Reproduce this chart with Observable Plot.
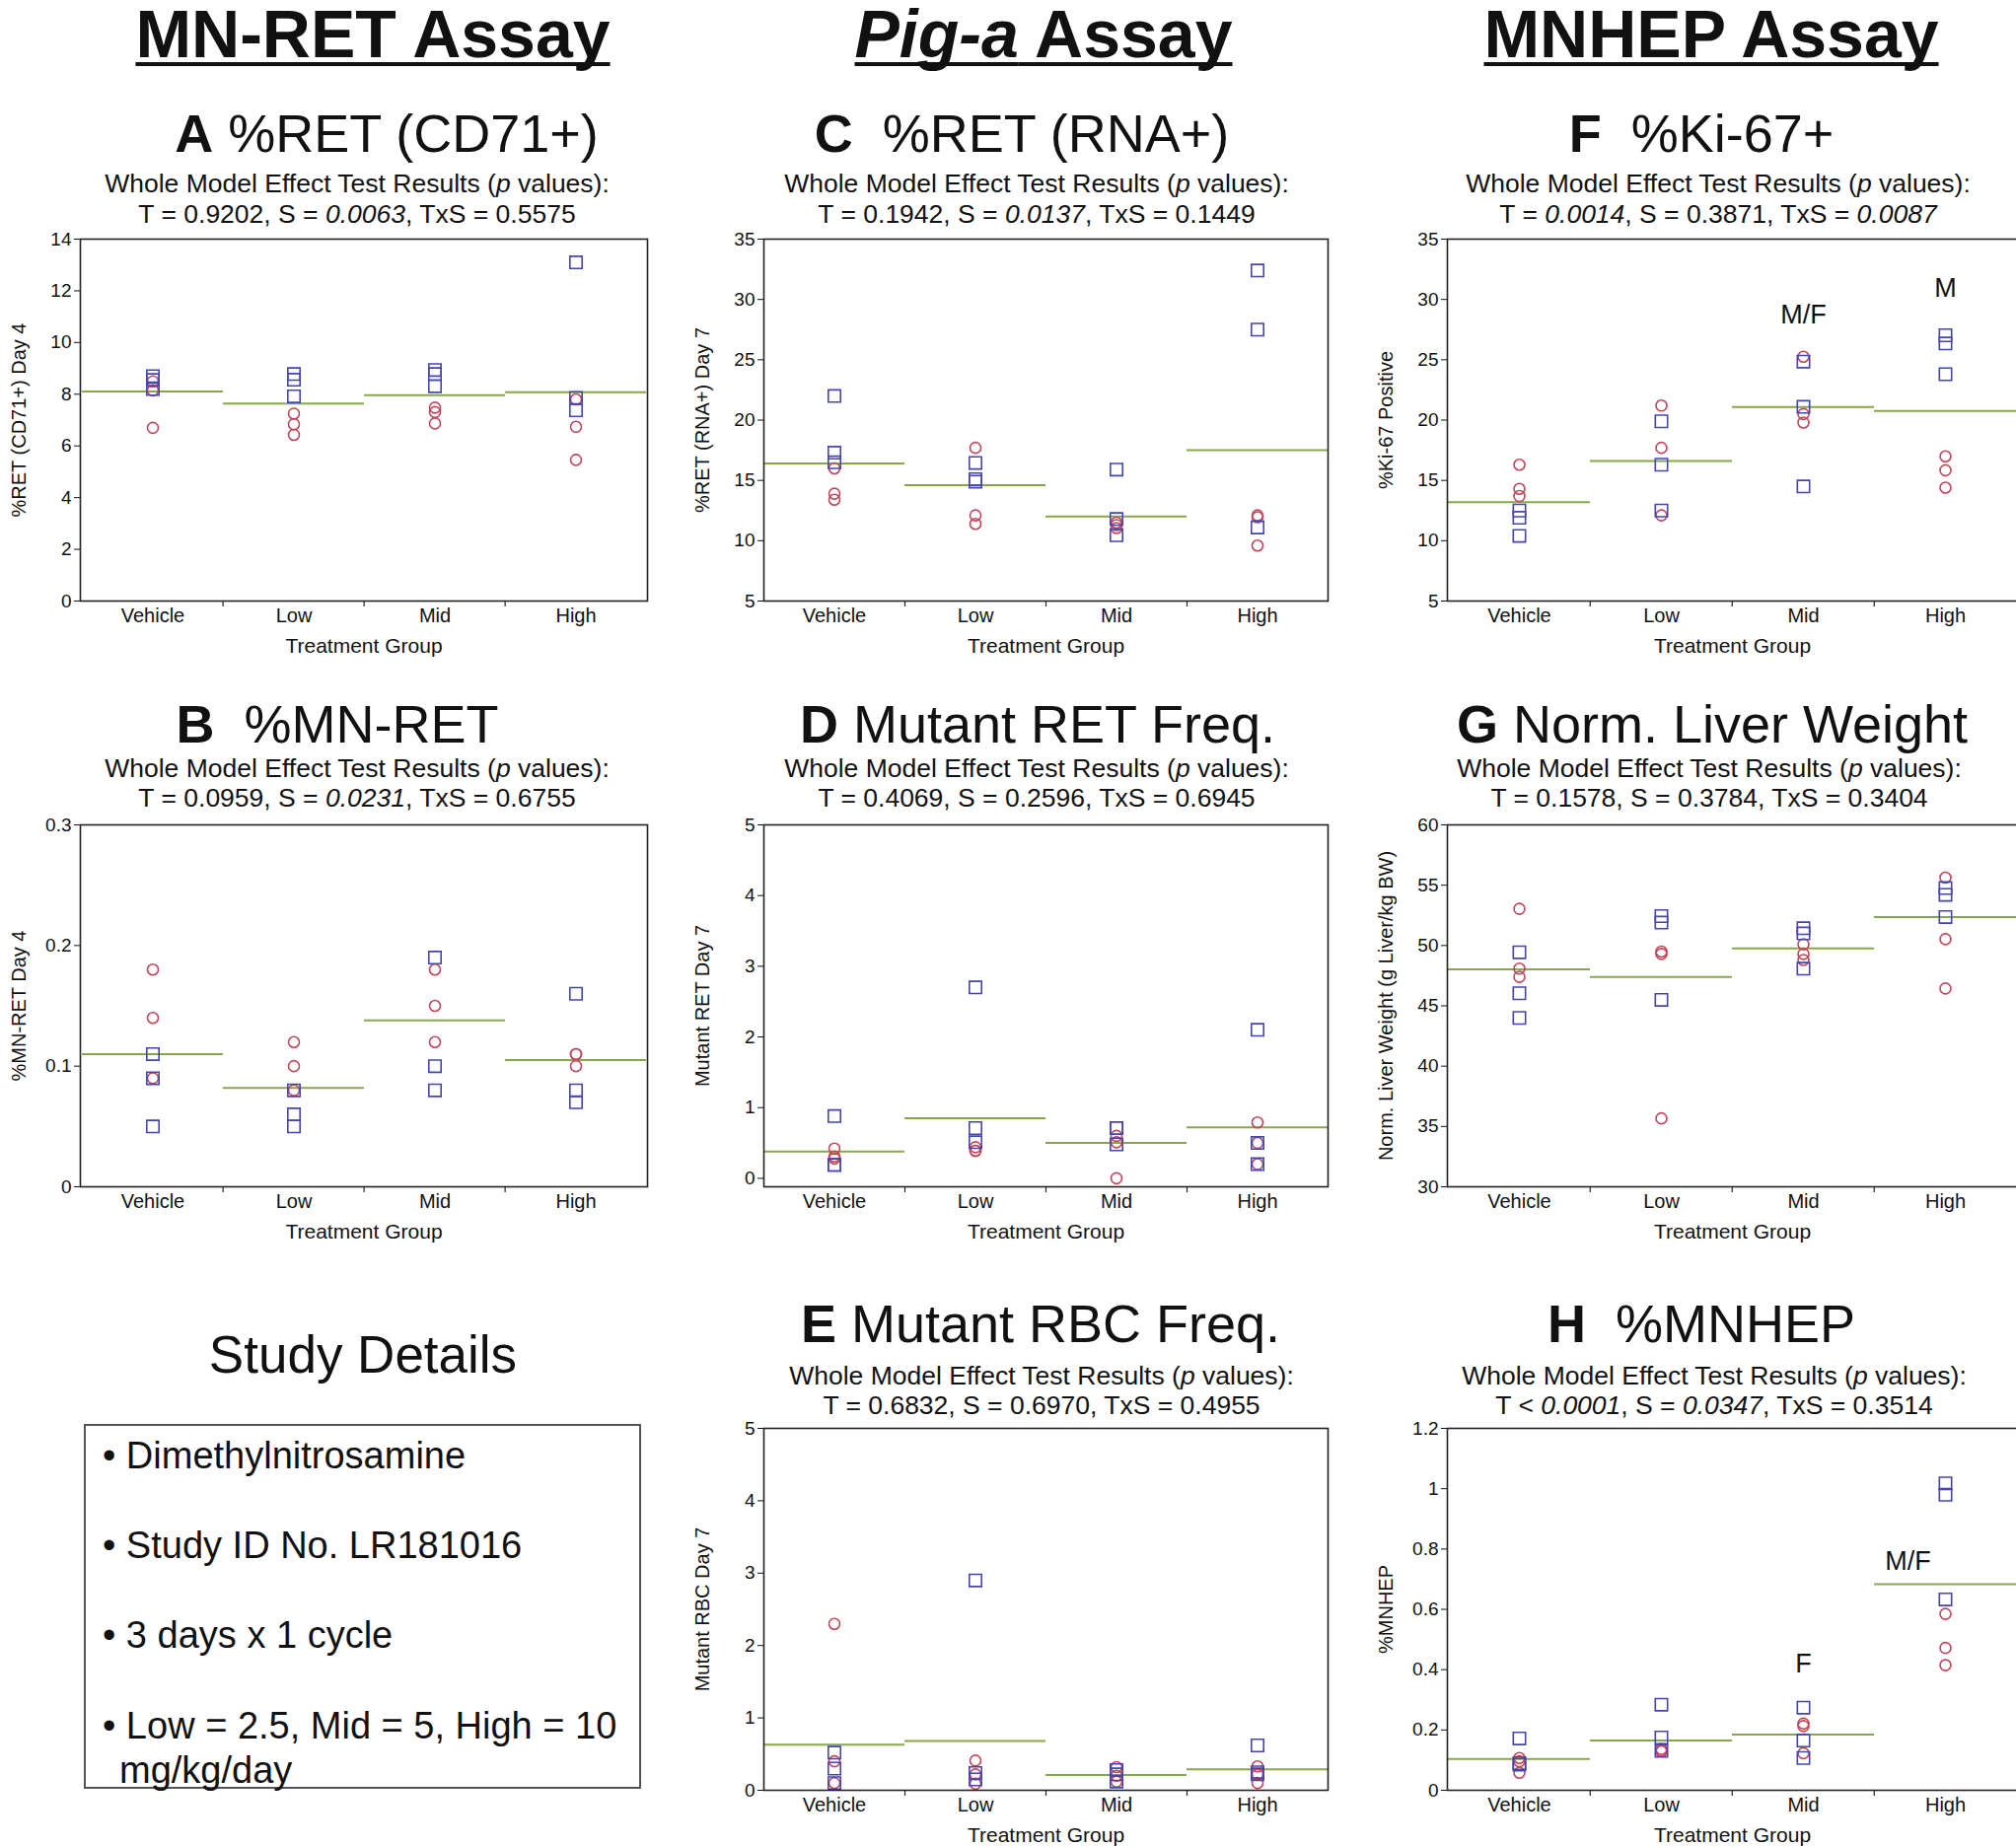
<!DOCTYPE html>
<html><head><meta charset="utf-8">
<script src="https://cdn.jsdelivr.net/npm/d3@7"></script>
<script src="https://cdn.jsdelivr.net/npm/@observablehq/plot@0.6"></script>
<style>
html,body{margin:0;padding:0;background:#fff;}
body{width:2044px;height:1872px;position:relative;overflow:hidden;font-family:"Liberation Sans",Arial,Helvetica,sans-serif;color:#111;}
.abs{position:absolute;white-space:nowrap;line-height:1;}
.c{transform:translateX(-50%);}
.hdr{font-weight:bold;text-decoration:underline;text-decoration-thickness:4px;text-underline-offset:5px;text-decoration-skip-ink:none;}
.ttl b{font-weight:bold;}
.box{position:absolute;border:2px solid #555;box-sizing:border-box;}
.panel{position:absolute;}
.panel svg{max-width:none !important;display:block;}
</style></head><body>
<script>
// ---------------- DATA ----------------
const groups = ["Vehicle", "Low", "Mid", "High"];

// A  %RET (CD71+) Day 4
const retCD71Male   = [[8.7, 8.55, 8.2], [8.56, 8.78, 7.92], [8.31, 8.94, 8.78], [13.1, 7.86, 7.38]];
const retCD71Female = [[8.5, 8.15, 6.7], [7.25, 6.84, 6.43], [7.48, 7.31, 6.87], [7.8, 6.74, 5.46]];
const retCD71Mean   = [8.11, 7.64, 7.96, 8.08];

// B  %MN-RET Day 4
const mnRetMale   = [[0.11, 0.09, 0.05], [0.08, 0.06, 0.05], [0.19, 0.10, 0.08], [0.16, 0.08, 0.07]];
const mnRetFemale = [[0.18, 0.14, 0.09], [0.12, 0.10, 0.08], [0.18, 0.15, 0.12], [0.11, 0.11, 0.10]];
const mnRetMean   = [0.110, 0.082, 0.138, 0.105];

// C  %RET (RNA+) Day 7
const retRnaMale   = [[22.0, 17.3, 16.5], [16.45, 15.1, 14.9], [15.9, 11.8, 10.45], [32.4, 27.5, 11.1]];
const retRnaFemale = [[16.0, 13.9, 13.4], [17.7, 12.1, 11.4], [11.5, 11.3, 11.05], [12.1, 11.95, 9.6]];
const retRnaMean   = [16.4, 14.6, 12.0, 17.5];

// D  Mutant RET Day 7
const mutRetMale   = [[0.88, 0.19, 0.19], [2.70, 0.71, 0.51], [0.71, 0.71, 0.48], [2.10, 0.50, 0.20]];
const mutRetFemale = [[0.42, 0.31, 0.28], [0.44, 0.39, 0.39], [0.60, 0.51, 0.0], [0.79, 0.50, 0.20]];
const mutRetMean   = [0.38, 0.85, 0.50, 0.72];

// E  Mutant RBC Day 7
const mutRbcMale   = [[0.52, 0.30, 0.10], [2.90, 0.24, 0.15], [0.28, 0.22, 0.12], [0.62, 0.25, 0.22]];
const mutRbcFemale = [[2.30, 0.40, 0.10], [0.41, 0.22, 0.09], [0.32, 0.20, 0.12], [0.33, 0.22, 0.10]];
const mutRbcMean   = [0.63, 0.68, 0.21, 0.29];

// F  %Ki-67 Positive
const ki67Male   = [[12.5, 11.9, 10.4], [19.9, 16.3, 12.5], [24.85, 21.1, 14.5], [27.03, 26.35, 23.8]];
const ki67Female = [[16.3, 14.3, 13.7], [21.2, 17.7, 12.1], [25.25, 20.5, 19.8], [17.0, 15.84, 14.4]];
const ki67Mean   = [13.2, 16.6, 21.08, 20.75];

// G  Norm. Liver Weight
const liverMale   = [[49.44, 46.04, 44.0], [52.44, 51.9, 45.5], [51.43, 51.0, 48.08], [54.76, 54.2, 52.36]];
const liverFemale = [[53.04, 48.08, 47.4], [49.5, 49.3, 35.67], [50.1, 49.3, 48.8], [55.63, 50.53, 46.44]];
const liverMean   = [48.03, 47.4, 49.77, 52.36];

// H  %MNHEP
const mnhepMale   = [[0.172, 0.090, 0.085], [0.284, 0.175, 0.131], [0.274, 0.165, 0.107], [1.018, 0.98, 0.633]];
const mnhepFemale = [[0.107, 0.096, 0.058], [0.137, 0.130, 0.129], [0.221, 0.213, 0.123], [0.585, 0.472, 0.415]];
const mnhepMean   = [0.104, 0.165, 0.185, 0.683];

// significance annotations
const ki67Notes  = [{group: "Mid", label: "M/F", value: 28.7}, {group: "High", label: "M", value: 30.9}];
const mnhepNotes = [{group: "Mid", label: "F", value: 0.42}, {group: "High", label: "M/F", value: 0.76}];

// tick values
const ticksA = [0, 2, 4, 6, 8, 10, 12, 14];
const ticksB = [0, 0.1, 0.2, 0.3];
const ticksC = [5, 10, 15, 20, 25, 30, 35];
const ticksD = [0, 1, 2, 3, 4, 5];
const ticksF = [5, 10, 15, 20, 25, 30, 35];
const ticksG = [30, 35, 40, 45, 50, 55, 60];
const ticksH = [0, 0.2, 0.4, 0.6, 0.8, 1, 1.2];

// texts
const headers = [
  {html: "MN-RET Assay", col: 0},
  {html: "<i>Pig-a</i> Assay", col: 1},
  {html: "MNHEP Assay", col: 2}
];
const studyItems = ["Dimethylnitrosamine", "Study ID No. LR181016", "3 days x 1 cycle", "Low = 2.5, Mid = 5, High = 10"];
const studyWrap = "mg/kg/day";

// ---------------- LAYOUT ----------------
const colLeft = [81, 774, 1467];
const colWidth = [575, 572, 578];
const rowTop = [242, 836, 1448];
const frameH = 367;
const mL = 95, mR = 8, mT = 10, mB = 66;
const BLUE = "#4446b0", RED = "#c2455a", GREEN = "#86a84a", INK = "#222";
const FONT = "'Liberation Sans', Arial, Helvetica, sans-serif";

const panels = [
  {letter: "A", name: "%RET (CD71+)", tc: 392, pc: 362, p: "T = 0.9202, S = <i>0.0063</i>, TxS = 0.5575",
   col: 0, row: 0, male: retCD71Male, female: retCD71Female, mean: retCD71Mean, domain: [0, 14], ticks: ticksA, ylabel: "%RET (CD71+) Day 4"},
  {letter: "B", name: "&nbsp;%MN-RET", tc: 342, pc: 362, p: "T = 0.0959, S = <i>0.0231</i>, TxS = 0.6755",
   col: 0, row: 1, male: mnRetMale, female: mnRetFemale, mean: mnRetMean, domain: [0, 0.3], ticks: ticksB, ylabel: "%MN-RET Day 4"},
  {letter: "C", name: "&nbsp;%RET (RNA+)", tc: 1036, pc: 1051, p: "T = 0.1942, S = <i>0.0137</i>, TxS = 0.1449",
   col: 1, row: 0, male: retRnaMale, female: retRnaFemale, mean: retRnaMean, domain: [5, 35], ticks: ticksC, ylabel: "%RET (RNA+) Day 7"},
  {letter: "D", name: "Mutant RET Freq.", tc: 1052, pc: 1051, p: "T = 0.4069, S = 0.2596, TxS = 0.6945",
   col: 1, row: 1, male: mutRetMale, female: mutRetFemale, mean: mutRetMean, domain: [-0.12, 5], ticks: ticksD, ylabel: "Mutant RET Day 7"},
  {letter: "E", name: "Mutant RBC Freq.", tc: 1055, pc: 1056, p: "T = 0.6832, S = 0.6970, TxS = 0.4955",
   col: 1, row: 2, male: mutRbcMale, female: mutRbcFemale, mean: mutRbcMean, domain: [0, 5], ticks: ticksD, ylabel: "Mutant RBC Day 7"},
  {letter: "F", name: "&nbsp;%Ki-67+", tc: 1725, pc: 1742, p: "T = <i>0.0014</i>, S = 0.3871, TxS = <i>0.0087</i>",
   col: 2, row: 0, male: ki67Male, female: ki67Female, mean: ki67Mean, domain: [5, 35], ticks: ticksF, ylabel: "%Ki-67 Positive", notes: ki67Notes, noteDx: {"M/F": 0, "M": 0}},
  {letter: "G", name: "Norm. Liver Weight", tc: 1736, pc: 1733, p: "T = 0.1578, S = 0.3784, TxS = 0.3404",
   col: 2, row: 1, male: liverMale, female: liverFemale, mean: liverMean, domain: [30, 60], ticks: ticksG, ylabel: "Norm. Liver Weight (g Liver/kg BW)"},
  {letter: "H", name: "&nbsp;%MNHEP", tc: 1725, pc: 1738, p: "T &lt; <i>0.0001</i>, S = <i>0.0347</i>, TxS = 0.3514",
   col: 2, row: 2, male: mnhepMale, female: mnhepFemale, mean: mnhepMean, domain: [0, 1.2], ticks: ticksH, ylabel: "%MNHEP", notes: mnhepNotes, noteDx: {"F": 0, "M/F": -38}}
];

// title baselines per row, p-value baselines per row
const titleBase = [154, 753, 1361];
const pBase1 = [195, 788, 1404];
const pBase2 = [226, 818, 1434];

function text(html, cx, baseline, size, extra = "") {
  const d = document.createElement("div");
  d.className = "abs c " + extra;
  d.style.left = cx + "px";
  d.style.top = (baseline - 0.8465 * size) + "px";
  d.style.fontSize = size + "px";
  d.innerHTML = html;
  document.body.appendChild(d);
  return d;
}
function textL(html, left, baseline, size) {
  const d = document.createElement("div");
  d.className = "abs";
  d.style.left = left + "px";
  d.style.top = (baseline - 0.8465 * size) + "px";
  d.style.fontSize = size + "px";
  d.innerHTML = html;
  document.body.appendChild(d);
}

// headers
const headerCx = [378, 1058, 1735];
headers.forEach(h => text(h.html, headerCx[h.col], 58, 68, "hdr"));

// study details
text("Study Details", 368, 1392, 53);
const box = document.createElement("div");
box.className = "box";
Object.assign(box.style, {left: "85px", top: "1444px", width: "565px", height: "370px"});
document.body.appendChild(box);
const itemBase = [1489, 1580, 1671, 1763];
studyItems.forEach((s, i) => textL("&bull; " + s, 104, itemBase[i], 38));
textL(studyWrap, 121, 1808, 38);

function fmt(d) { return String(+d.toFixed(2)); }

panels.forEach(p => {
  // titles
  text(`<b>${p.letter}</b> ${p.name}`, p.tc, titleBase[p.row], 54, "ttl");
  text("Whole Model Effect Test Results (<i>p</i> values):", p.pc, pBase1[p.row], 26.5);
  text(p.p, p.pc, pBase2[p.row], 26.5);

  const W = colWidth[p.col];
  const bw = W / groups.length;
  const males = groups.flatMap((g, i) => p.male[i].map(v => ({group: g, value: v})));
  const females = groups.flatMap((g, i) => p.female[i].map(v => ({group: g, value: v})));
  const means = groups.map((g, i) => ({group: g, value: p.mean[i]}));

  const marks = [
    Plot.ruleX(groups.slice(1), {x: d => d, dx: -bw / 2, insetTop: frameH, insetBottom: -6, stroke: INK, strokeWidth: 1.2}),
    Plot.axisY({ticks: p.ticks, tickFormat: fmt, tickSize: 6, tickPadding: 3, fontSize: 19, label: null}),
    Plot.axisY({ticks: [], tickSize: 0, fontSize: 20, label: p.ylabel, labelAnchor: "center", labelArrow: "none", labelOffset: 70}),
    Plot.axisX({tickSize: 0, tickPadding: 7, fontSize: 20, label: null}),
    Plot.axisX({ticks: [], tickSize: 0, fontSize: 21, label: "Treatment Group", labelAnchor: "center", labelArrow: "none", labelOffset: 52}),
    Plot.tickY(means, {x: "group", y: "value", stroke: GREEN, strokeWidth: 2}),
    Plot.dot(females, {x: "group", y: "value", symbol: "circle", r: 5.5, stroke: RED, strokeWidth: 1.6}),
    Plot.dot(males, {x: "group", y: "value", symbol: "square", r: 7, stroke: BLUE, strokeWidth: 1.6}),
    Plot.frame({stroke: INK, strokeWidth: 1.6})
  ];
  if (p.notes) {
    p.notes.forEach(n => {
      marks.push(Plot.text([n], {x: "group", y: "value", text: "label", fontSize: 27, fill: "#111", dx: p.noteDx[n.label] || 0}));
    });
  }

  const totalW = mL + W + mR, totalH = mT + frameH + mB;
  const chart = Plot.plot({
    width: totalW, height: totalH,
    marginLeft: mL, marginRight: mR, marginTop: mT, marginBottom: mB,
    style: {fontFamily: FONT, fontSize: "19px", color: "#111", background: "transparent", overflow: "visible", maxWidth: "none"},
    x: {type: "band", domain: groups, padding: 0},
    y: {domain: p.domain},
    marks
  });
  const wrap = document.createElement("div");
  wrap.className = "panel";
  wrap.style.left = (colLeft[p.col] - mL) + "px";
  wrap.style.top = (rowTop[p.row] - mT) + "px";
  wrap.style.width = totalW + "px";
  wrap.style.height = totalH + "px";
  wrap.appendChild(chart);
  document.body.appendChild(wrap);
});
</script>
</body></html>
